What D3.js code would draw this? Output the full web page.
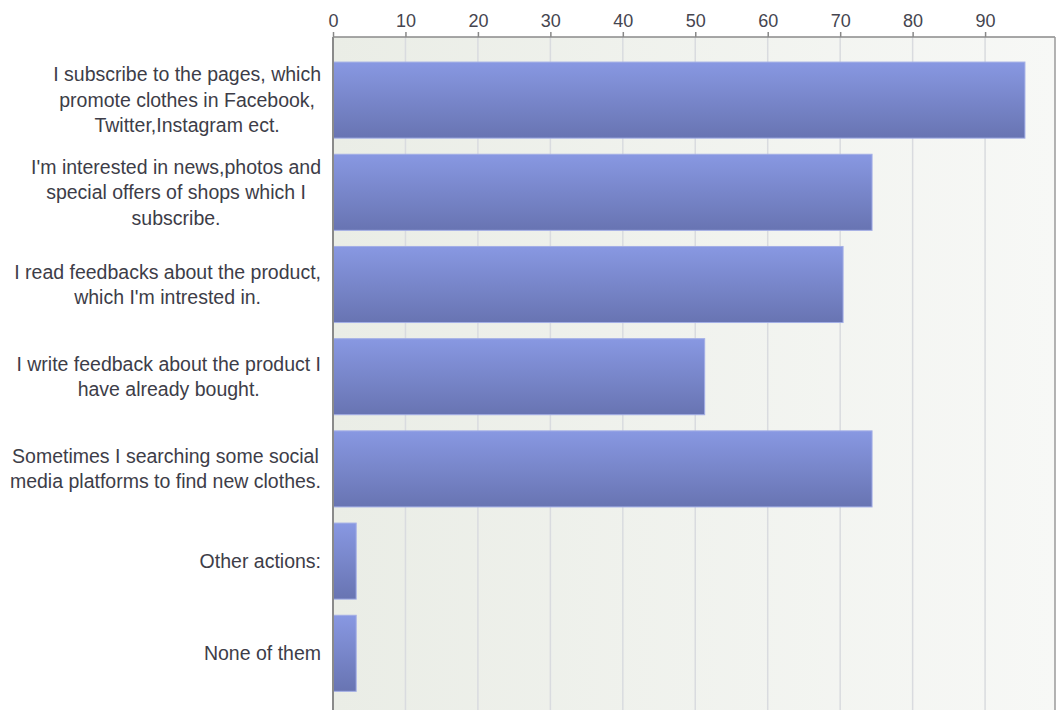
<!DOCTYPE html>
<html>
<head>
<meta charset="utf-8">
<script src="https://cdn.jsdelivr.net/npm/d3@7"></script>
<style>
  body { margin: 0; background: #fff; }
  svg { display: block; }
  text { font-family: Arial, "Liberation Sans", sans-serif; }
</style>
</head>
<body>
<div class="viz"></div>
<script>
const width = 1056;
const height = 710;

// answers (top to bottom), label lines and counts
const categories = [
  ['I subscribe to the pages, which', 'promote clothes in Facebook,', 'Twitter,Instagram ect.'],
  ["I'm interested in news,photos and", 'special offers of shops which I', 'subscribe.'],
  ['I read feedbacks about the product,', "which I'm intrested in."],
  ['I write feedback about the product I', 'have already bought.'],
  ['Sometimes I searching some social', 'media platforms to find new clothes.'],
  ['Other actions:'],
  ['None of them']
];
const values = [95.5, 74.4, 70.4, 51.3, 74.4, 3.2, 3.2];
const ticks = [0, 10, 20, 30, 40, 50, 60, 70, 80, 90];

const plot = {left: 333, right: 1055, top: 37, bottom: 710};

const svg = d3.select('.viz').append('svg')
  .attr('width', width)
  .attr('height', height);

const defs = svg.append('defs');
const bg = defs.append('linearGradient').attr('id', 'bg')
  .attr('x1', 0).attr('x2', 1).attr('y1', 0).attr('y2', 0);
bg.append('stop').attr('offset', 0).attr('stop-color', '#eaede6');
bg.append('stop').attr('offset', 1).attr('stop-color', '#f7f8f6');

const barGrad = defs.append('linearGradient').attr('id', 'bar')
  .attr('x1', 0).attr('x2', 0).attr('y1', 0).attr('y2', 1);
barGrad.append('stop').attr('offset', 0).attr('stop-color', '#8898e2');
barGrad.append('stop').attr('offset', 1).attr('stop-color', '#6874b2');

const x = d3.scaleLinear()
  .domain([0, 99.65])
  .range([plot.left, plot.right]);

const y = d3.scaleBand()
  .domain(d3.range(categories.length))
  .range([54, 54 + 92.2 * categories.length])
  .paddingInner(0.175)
  .paddingOuter(0.0875);

// plot background
svg.append('rect')
  .attr('x', plot.left).attr('y', plot.top)
  .attr('width', plot.right - plot.left)
  .attr('height', plot.bottom - plot.top)
  .attr('fill', 'url(#bg)');

// grid lines
svg.append('g').selectAll('line.grid')
  .data(ticks.filter(d => d > 0))
  .enter()
  .append('line')
    .attr('class', 'grid')
    .attr('x1', d => x(d)).attr('x2', d => x(d))
    .attr('y1', plot.top).attr('y2', plot.bottom)
    .attr('stroke', '#d9dbdf')
    .attr('stroke-width', 1.5);

// bars
svg.append('g').selectAll('rect.bar')
  .data(values)
  .enter()
  .append('rect')
    .attr('class', 'bar')
    .attr('x', x(0))
    .attr('y', (d, i) => y(i))
    .attr('width', d => x(d) - x(0))
    .attr('height', y.bandwidth())
    .attr('fill', 'url(#bar)')
    .attr('stroke', '#a3aee6')
    .attr('stroke-width', 1);

// top axis
const axis = d3.axisTop(x)
  .tickValues(ticks)
  .tickSize(5)
  .tickSizeOuter(0)
  .tickPadding(5);

const gAxis = svg.append('g')
  .attr('transform', `translate(0,${plot.top})`)
  .call(axis);
gAxis.select('.domain').remove();
gAxis.selectAll('.tick line').attr('stroke', '#888').attr('stroke-width', 1.5);
gAxis.selectAll('.tick text')
  .attr('fill', '#45454f')
  .attr('font-size', 18);

// frame: top, left and right edges
svg.append('line')
  .attr('x1', plot.left).attr('x2', plot.right)
  .attr('y1', plot.top).attr('y2', plot.top)
  .attr('stroke', '#8a8a8a').attr('stroke-width', 1.5);
svg.append('line')
  .attr('x1', plot.left).attr('x2', plot.left)
  .attr('y1', plot.top).attr('y2', plot.bottom)
  .attr('stroke', '#8a8a8a').attr('stroke-width', 2);
svg.append('line')
  .attr('x1', plot.right).attr('x2', plot.right)
  .attr('y1', plot.top).attr('y2', plot.bottom)
  .attr('stroke', '#9a9a9a').attr('stroke-width', 1.5);

// category labels: block right-aligned, lines centred within block
const lineH = 25.5;
const labels = svg.append('g').selectAll('g.label')
  .data(categories)
  .enter()
  .append('g')
    .attr('class', 'label');

labels.each(function(lines, i) {
  const g = d3.select(this);
  const cy = y(i) + y.bandwidth() / 2;
  const texts = g.selectAll('text')
    .data(lines)
    .enter()
    .append('text')
      .attr('font-size', 19.5)
      .attr('fill', '#3d3d48')
      .attr('text-anchor', 'middle')
      .attr('dy', '0.35em')
      .attr('y', (d, j) => cy + (j - (lines.length - 1) / 2) * lineH)
      .text(d => d);
  let maxW = 0;
  texts.each(function() { maxW = Math.max(maxW, this.getComputedTextLength()); });
  texts.attr('x', 321 - maxW / 2);
});
</script>
</body>
</html>
